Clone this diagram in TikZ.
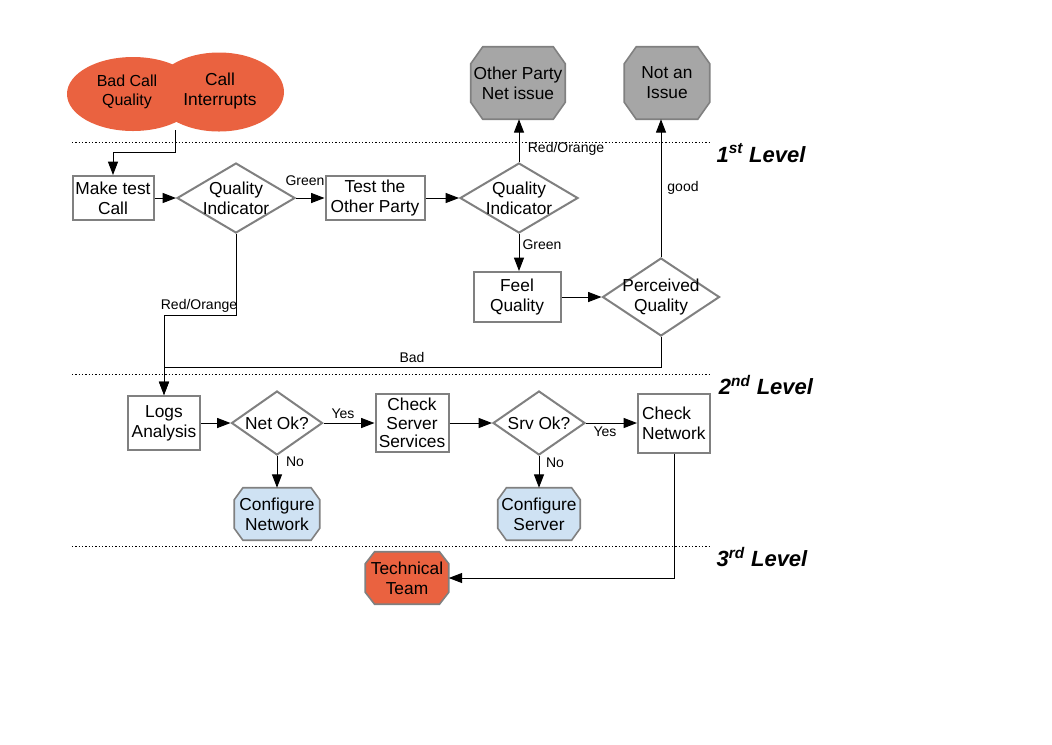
\documentclass[tikz,border=0pt]{standalone}
\usepackage{fontspec}
\setmainfont{Liberation Sans}
\usetikzlibrary{shapes.geometric,arrows.meta}
\pgfdeclarelayer{bg}
\pgfsetlayers{bg,main}
\definecolor{orng}{RGB}{234,98,64}
\definecolor{bord}{RGB}{128,128,128}
\definecolor{gfill}{RGB}{166,166,166}
\definecolor{lblue}{RGB}{207,226,243}
\newcommand\octpath[4]{%
  \begin{pgfonlayer}{bg}
  \path[#2] ([xshift=#3]#1.north west) -- ([xshift=-#3]#1.north east) -- ([yshift=-#4]#1.north east) -- ([yshift=#4]#1.south east) -- ([xshift=-#3]#1.south east) -- ([xshift=#3]#1.south west) -- ([yshift=#4]#1.south west) -- ([yshift=-#4]#1.north west) -- cycle;
  \end{pgfonlayer}}
\begin{document}
\begin{tikzpicture}[x=0.75pt,y=-0.75pt,
  txt/.style={font=\fontsize{13}{15}\selectfont, align=center},
  box/.style={txt, draw=bord, line width=1.5pt, fill=white, inner sep=1pt},
  dia/.style={diamond, draw=bord, line width=1.5pt, fill=white, inner sep=0pt},
  dtxt/.style={txt, inner sep=0pt},
  ovalfill/.style={fill=orng},
  oct/.style={txt, draw=none, inner sep=0pt},
  octo/.style={draw=bord, line width=1.2pt},
  octg/.style={octo, fill=gfill},
  octb/.style={octo, fill=lblue},
  octr/.style={octo, fill=orng},
  lab/.style={font=\fontsize{10.5}{12}\selectfont, inner sep=0pt},
  lvl/.style={font=\fontsize{16.5}{18}\selectfont\bfseries\itshape, inner sep=0pt},
  arr/.style={-{Triangle[length=10pt,width=7.5pt]}, line width=0.75pt},
  sep/.style={line width=0.6pt, dash pattern=on 1pt off 1.5pt},
]
\useasboundingbox (0,0) rectangle (1052,744);

% level separators
\draw[sep] (72,142) -- (710,142);
\draw[sep] (72,374) -- (710,374);
\draw[sep] (72,546) -- (710,546);
\node[lvl] (l1) at (761,153) {1\textsuperscript{st} Level};
\node[lvl] (l2) at (766,385) {2\textsuperscript{nd} Level};
\node[lvl] (l3) at (762,557) {3\textsuperscript{rd} Level};

% start ellipses
\fill[ovalfill] (133,94) ellipse [x radius=66, y radius=37];
\fill[ovalfill] (219,92) ellipse [x radius=65, y radius=39.5];
\node[txt, font=\fontsize{12}{14.5}\selectfont, inner sep=0pt] (bad) at (127,92) {Bad Call\\Quality};
\node[txt, inner sep=0pt] (intr) at (220,91) {Call\\Interrupts};
\coordinate (waist) at (175,130);

% first level
\node[box, minimum width=60.75pt, minimum height=33pt] (mt) at (113,198) {Make test\\Call};
\node[dia, minimum width=88.5pt, minimum height=52.5pt, label={[dtxt]center:Quality\\Indicator}] (q1) at (236,198) {};
\node[box, minimum width=74.25pt, minimum height=33pt] (tp) at (375,198) {Test the\\Other Party};
\node[dia, minimum width=88.5pt, minimum height=52.5pt, label={[dtxt]center:Quality\\Indicator}] (q2) at (519,198) {};
\node[oct, minimum width=70.5pt, minimum height=54pt] (op) at (518,83) {Other Party\\Net issue};
\node[oct, minimum width=63.75pt, minimum height=54pt] (na) at (667,83) {Not an\\Issue};
\node[box, minimum width=65.25pt, minimum height=37.5pt] (fq) at (517,297) {Feel\\Quality};
\node[dia, minimum width=87.75pt, minimum height=58.5pt, label={[dtxt]center:Perceived\\Quality}] (pq) at (661,297) {};

% second level
\node[box, minimum width=54pt, minimum height=40.5pt] (la) at (164,423) {Logs\\Analysis};
\node[dia, minimum width=68.25pt, minimum height=48pt, label={[dtxt]center:Net Ok?}] (nok) at (277,423) {};
\node[box, font=\fontsize{13}{14}\selectfont, inner sep=0.5pt, minimum width=54.75pt, minimum height=43.5pt] (cs) at (412,423) {Check\\Server\\Services};
\node[dia, minimum width=69pt, minimum height=48pt, label={[dtxt]center:Srv Ok?}] (sok) at (539,423) {};
\node[box, minimum width=54pt, minimum height=44.25pt, text width=48pt, align=left, inner sep=3pt] (cn) at (674,423) {Check\\Network};
\node[oct, minimum width=63.75pt, minimum height=39pt] (cfn) at (277,514) {Configure\\Network};
\node[oct, minimum width=61.5pt, minimum height=39pt] (cfs) at (539,514) {Configure\\Server};

% third level
\node[oct, minimum width=62.25pt, minimum height=39pt] (tt) at (407,578) {Technical\\Team};

% octagon outlines
\octpath{op}{octg}{9pt}{12.75pt}
\octpath{na}{octg}{9pt}{12.75pt}
\octpath{cfn}{octb}{6.5pt}{9pt}
\octpath{cfs}{octb}{6.5pt}{9pt}
\octpath{tt}{octr}{7pt}{9pt}

% connectors
\draw[arr] (waist) -- ++(0,22) -| (mt.north);
\draw[arr] (mt.east) -- (q1.west);
\draw[arr] (q1.east) -- (tp.west);
\draw[arr] (tp.east) -- (q2.west);
\draw[arr] (q2.north) -- (q2.north |- op.south);
\draw[arr] (q2.south) -- (q2.south |- fq.north);
\draw[arr] (fq.east) -- (pq.west);
\draw[arr] (pq.north) -- (pq.north |- na.south);
\draw[arr] (q1.south) -- ++(0,81) -| (la.north);
\draw[arr] (pq.south) -- ++(0,30) -| (la.north);
\draw[arr] (la.east) -- (nok.west);
\draw[arr] (nok.east) -- (cs.west);
\draw[arr] (cs.east) -- (sok.west);
\draw[arr] (sok.east) -- (cn.west);
\draw[arr] (nok.south) -- (cfn.north);
\draw[arr] (sok.south) -- (cfs.north);
\draw[arr] (cn.south) |- (tt.east);

% connector labels
\node[lab] (g1) at (305,181) {Green};
\node[lab] (ro1) at (566,149) {Red/Orange};
\node[lab] (g2) at (542,245) {Green};
\node[lab] (gd) at (683,188) {good};
\node[lab] (ro2) at (199,306) {Red/Orange};
\node[lab] (bd) at (412,357) {Bad};
\node[lab] (y1) at (343,414) {Yes};
\node[lab] (n1) at (295,462) {No};
\node[lab] (y2) at (605,432) {Yes};
\node[lab] (n2) at (555,463) {No};
\end{tikzpicture}
\end{document}
